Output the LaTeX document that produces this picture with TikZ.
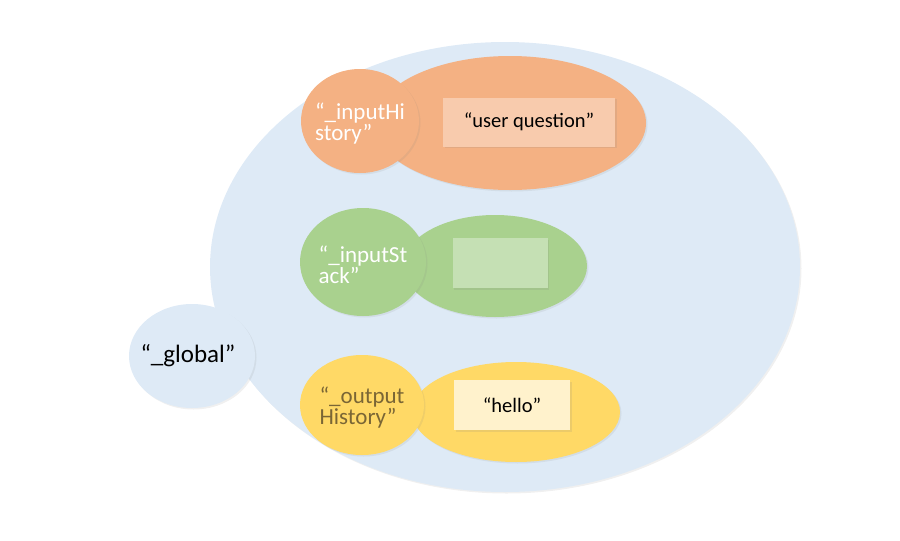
\documentclass[tikz,border=0pt]{standalone}
\usepackage{fontspec}
\setmainfont{Carlito}
\usetikzlibrary{shapes.geometric,shadows}

\definecolor{scopeblue}{HTML}{DEEAF6}
\definecolor{historange}{HTML}{F4B183}
\definecolor{histcard}{HTML}{F8CBAD}
\definecolor{stackgreen}{HTML}{A9D18E}
\definecolor{stackcard}{HTML}{C5E0B4}
\definecolor{outyellow}{HTML}{FFD966}
\definecolor{outcard}{HTML}{FFF2CC}
\definecolor{outtext}{HTML}{7A6635}

\begin{document}
\begin{tikzpicture}[x=1pt,y=-1pt,font=\fontsize{20.5}{22}\selectfont,
  blob/.style={ellipse,inner sep=0pt,drop shadow={opacity=0.12,shadow xshift=1.5pt,shadow yshift=-1.5pt}},
  card/.style={rectangle,inner sep=0pt,drop shadow={opacity=0.15,shadow xshift=1.5pt,shadow yshift=-1.5pt}},
  varname/.style={align=left,inner sep=0pt,yshift=-3pt,font=\fontsize{23}{21}\selectfont}]
  \useasboundingbox (0,0) rectangle (900,541);

  \node[blob,fill=scopeblue,minimum width=590pt,minimum height=450pt] (scope) at (505,267) {};
  \node[blob,fill=scopeblue,minimum width=126pt,minimum height=104pt,
    label={[inner sep=0pt,xshift=-4pt,font=\fontsize{25}{28}\selectfont]center:{“\_global”}}] (global) at (192,356) {};

  % input history
  \node[blob,fill=historange,minimum width=272pt,minimum height=134pt] (hist) at (510,123) {};
  \node[blob,fill=historange,minimum width=118pt,minimum height=104pt,
    label={[varname,text=white]center:{“\_inputHi\\story”}}] (histname) at (360,121) {};
  \node[card,fill=histcard,minimum width=172pt,minimum height=49pt] (histval) at (529,122) {“user question”};

  % input stack
  \node[blob,fill=stackgreen,minimum width=184pt,minimum height=102pt] (stack) at (495,266) {};
  \node[blob,fill=stackgreen,minimum width=126pt,minimum height=108pt,
    label={[varname,text=white]center:{“\_inputSt\\ack”}}] (stackname) at (363,262) {};
  \node[card,fill=stackcard,minimum width=95pt,minimum height=50pt] (stackval) at (500,263) {};

  % output history
  \node[blob,fill=outyellow,minimum width=208pt,minimum height=100pt] (out) at (516,412) {};
  \node[blob,fill=outyellow,minimum width=124pt,minimum height=100pt,
    label={[varname,text=outtext]center:{“\_output\\History”}}] (outname) at (362,405) {};
  \node[card,fill=outcard,minimum width=116pt,minimum height=50pt] (outval) at (512,405) {“hello”};
\end{tikzpicture}
\end{document}
